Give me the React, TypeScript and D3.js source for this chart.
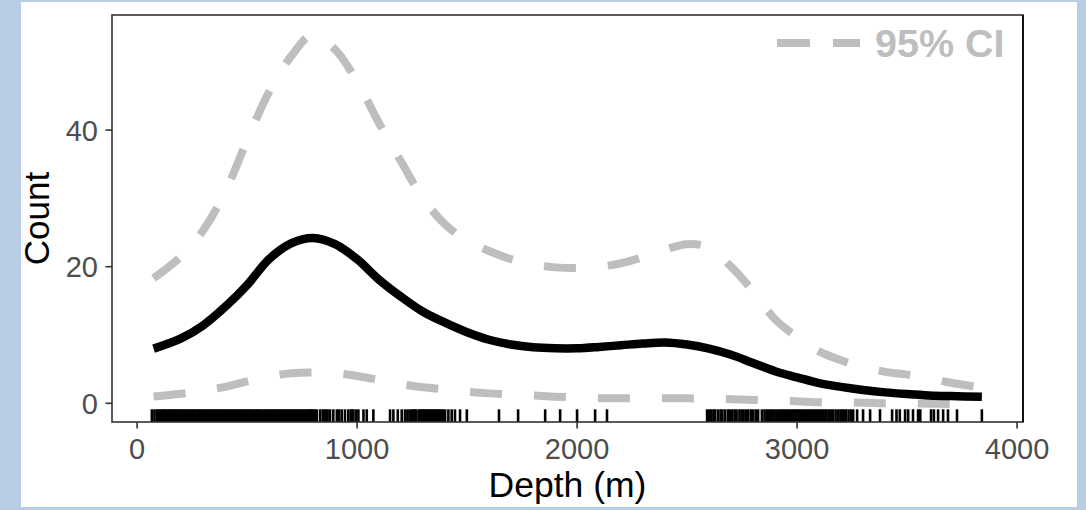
import React from "react";
import * as d3 from "d3";

const depthGrid = [75, 200, 300, 400, 500, 600, 700, 800, 900, 1000, 1100, 1200, 1300, 1400, 1500, 1600, 1700, 1800, 1900, 2000, 2100, 2200, 2300, 2400, 2500, 2600, 2700, 2800, 2900, 3000, 3100, 3200, 3300, 3400, 3500, 3600, 3700, 3840];

const meanCount = [8.0, 9.5, 11.4, 14.1, 17.3, 21.1, 23.4, 24.2, 23.3, 21.1, 18.1, 15.6, 13.4, 11.8, 10.4, 9.3, 8.6, 8.2, 8.05, 8.05, 8.25, 8.5, 8.75, 8.9, 8.6, 8.0, 7.1, 5.9, 4.7, 3.8, 2.95, 2.4, 1.95, 1.6, 1.35, 1.15, 1.05, 0.97];

const upperCI = [18.3, 21.5, 25.3, 30.9, 38.5, 45.6, 50.8, 54.0, 51.8, 47.1, 41.0, 35.4, 30.0, 26.2, 23.8, 22.3, 21.1, 20.3, 19.9, 19.8, 20.0, 20.5, 21.4, 22.5, 23.3, 22.8, 20.0, 16.4, 12.3, 9.7, 7.6, 6.3, 5.3, 4.6, 4.2, 3.7, 3.0, 2.3];

const lowerCI = [1.0, 1.4, 1.8, 2.4, 3.2, 3.9, 4.4, 4.5, 4.4, 4.0, 3.4, 2.8, 2.35, 2.05, 1.7, 1.45, 1.3, 1.15, 0.97, 0.85, 0.75, 0.73, 0.73, 0.73, 0.72, 0.7, 0.6, 0.48, 0.42, 0.3, 0.15, 0.12, 0.08, 0.0, 0.0, -0.05, -0.1, -0.15];

const rugDepths = [
  67, 79, 90, 96, 103, 111, 118, 124, 131, 139, 146, 152, 160, 167, 173, 181, 188, 195, 202, 209, 216, 224, 230, 238, 245, 252, 259, 266, 274, 281, 287, 295, 302, 309, 317, 323, 330, 338, 345, 352, 359, 366, 374, 380, 388, 395, 402, 409, 417, 424, 431, 438, 445, 452, 460, 467, 474, 481, 488, 496, 503, 510, 517, 524, 531, 539, 546, 553, 560, 567, 575, 582, 589, 596, 603, 611, 618, 625, 632, 639, 646, 654, 661, 668, 675, 682, 690, 697, 704, 711, 718, 726, 733, 740, 747, 754, 762, 769, 776, 783, 790, 794,
  801, 809, 817, 832, 844, 852, 858, 866, 877, 892, 908, 918, 930, 945, 960, 971, 978, 983, 995, 1006, 1029, 1044, 1074,
  1150, 1165, 1185, 1203, 1218, 1229, 1239, 1249, 1256, 1262, 1267, 1279, 1286, 1292, 1299, 1305, 1312, 1318, 1325, 1331, 1338, 1344, 1351, 1357, 1364, 1370, 1377, 1384, 1392, 1400, 1415, 1430, 1445, 1468, 1499,
  1645, 1732, 1855, 1923, 2000, 2082, 2136,
  2591, 2600, 2610, 2620, 2627, 2640, 2652, 2660, 2672, 2685, 2694, 2705, 2716, 2725, 2738, 2748, 2757, 2768, 2778, 2790, 2800, 2812, 2823, 2840, 2852, 2862, 2871, 2880, 2889, 2898, 2908, 2917, 2926, 2934, 2942, 2950, 2958, 2966, 2974, 2982, 2990, 2998, 3006, 3014, 3022, 3030, 3038, 3046, 3054, 3062, 3070, 3078, 3086, 3094, 3102, 3110, 3118, 3126, 3134, 3144, 3155, 3163, 3175, 3186, 3197, 3205, 3213, 3222, 3234, 3245, 3255, 3273, 3300, 3332, 3377, 3432, 3452, 3467, 3491, 3505, 3527, 3550, 3560, 3609, 3622, 3641, 3664, 3686, 3727, 3840,
];

const xTicks = [0, 1000, 2000, 3000, 4000];
const yTicks = [0, 20, 40];
const legendLabel = "95% CI";
const xTitle = "Depth (m)";
const yTitle = "Count";

const W = 1086;
const H = 510;
const P = { left: 112, right: 1023, top: 15, bottom: 422 };
const FONT = "'Liberation Sans', Arial, Helvetica, sans-serif";
const GREY = "#bebebe";

export default function App() {
  const x = d3.scaleLinear().domain([-114, 4027]).range([P.left, P.right]);
  const y = d3.scaleLinear().domain([-2.74, 56.85]).range([P.bottom, P.top]);

  const mk = (vals: number[]) =>
    d3
      .line<number>()
      .x((_, i) => x(depthGrid[i]))
      .y((v) => y(v))
      .curve(d3.curveCatmullRom.alpha(0.5))(vals) || "";

  const rugLen = 12.7;

  return (
    <svg width={W} height={H} style={{ position: "absolute", left: 0, top: 0 }} fontFamily={FONT}>
      <rect x={0} y={0} width={W} height={H} fill="#b8cde4" />
      <rect x={21} y={2} width={1056} height={505} fill="#ffffff" />

      {/* rug */}
      <g stroke="#000" strokeWidth={2.6}>
        {rugDepths.map((d, i) => (
          <line key={i} x1={x(d)} x2={x(d)} y1={P.bottom} y2={P.bottom - rugLen} />
        ))}
      </g>

      {/* CI lines */}
      <path d={mk(upperCI)} fill="none" stroke={GREY} strokeWidth={8} strokeDasharray="32 32" />
      <path d={mk(lowerCI)} fill="none" stroke={GREY} strokeWidth={8} strokeDasharray="32 32" />
      {/* mean */}
      <path d={mk(meanCount)} fill="none" stroke="#000" strokeWidth={8.5} strokeLinejoin="round" />

      {/* panel border */}
      <rect x={P.left} y={P.top} width={P.right - P.left} height={P.bottom - P.top} fill="none" stroke="#333" strokeWidth={1.6} />
      <line x1={P.right} x2={P.right} y1={P.top} y2={P.bottom} stroke="#111" strokeWidth={2} />

      {/* x axis */}
      {xTicks.map((t) => (
        <g key={t}>
          <line x1={x(t)} x2={x(t)} y1={P.bottom} y2={P.bottom + 6.5} stroke="#333" strokeWidth={1.6} />
          <text x={x(t)} y={459} textAnchor="middle" fontSize={29} fill="#4d4d4d">
            {t}
          </text>
        </g>
      ))}
      {/* y axis */}
      {yTicks.map((t) => (
        <g key={t}>
          <line x1={P.left - 6.5} x2={P.left} y1={y(t)} y2={y(t)} stroke="#333" strokeWidth={1.6} />
          <text x={98} y={y(t)} dy="0.36em" textAnchor="end" fontSize={29} fill="#4d4d4d">
            {t}
          </text>
        </g>
      ))}

      <text x={(P.left + P.right) / 2} y={497} textAnchor="middle" fontSize={35.5} fill="#000">
        {xTitle}
      </text>
      <text transform={`translate(49, ${(P.top + P.bottom) / 2}) rotate(-90)`} textAnchor="middle" fontSize={35} fill="#000">
        {yTitle}
      </text>

      {/* legend */}
      <line x1={777} x2={860} y1={43} y2={43} stroke={GREY} strokeWidth={8} strokeDasharray="33 23" />
      <text x={875} y={57} fontSize={39.5} fontWeight="bold" fill={GREY}>
        {legendLabel}
      </text>
    </svg>
  );
}
